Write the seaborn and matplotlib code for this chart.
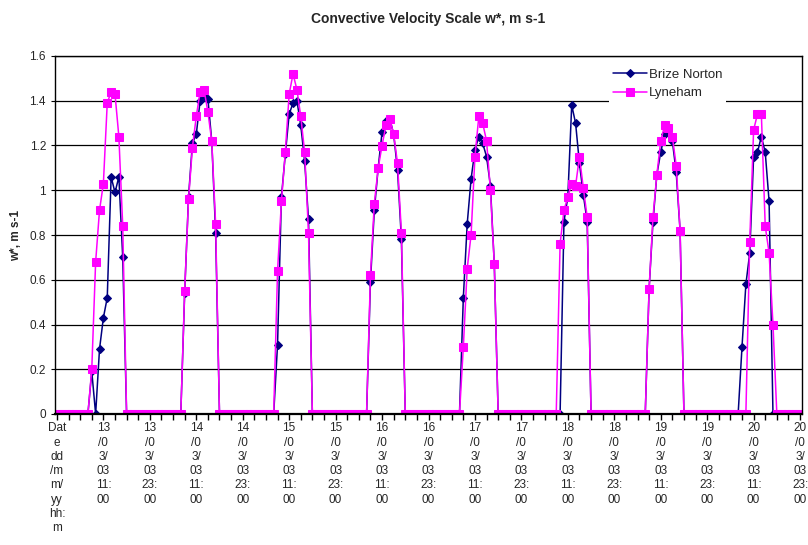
import numpy as np
import pandas as pd
import matplotlib
matplotlib.use('Agg')
import matplotlib.pyplot as plt
import seaborn as sns

# Data: hourly w* (m s-1), night hours are 0
days = ['13/03/03', '14/03/03', '15/03/03', '16/03/03',
        '17/03/03', '18/03/03', '19/03/03', '20/03/03']
day_hours = [8, 9, 10, 11, 12, 13, 14, 15, 16]

brize_day = [
    [0.19, 0.00, 0.29, 0.43, 0.52, 1.06, 0.99, 1.06, 0.70],
    [0.54, 0.97, 1.21, 1.25, 1.40, 1.42, 1.41, 1.22, 0.81],
    [0.31, 0.97, 1.16, 1.34, 1.39, 1.40, 1.29, 1.13, 0.87],
    [0.59, 0.91, 1.10, 1.26, 1.31, 1.32, 1.25, 1.09, 0.78],
    [0.52, 0.85, 1.05, 1.18, 1.24, 1.21, 1.15, 1.02, 0.67],
    [0.00, 0.00, 0.86, 0.97, 1.38, 1.30, 1.12, 0.98, 0.86],
    [0.56, 0.86, 1.07, 1.17, 1.25, 1.27, 1.22, 1.08, 0.82],
    [0.30, 0.58, 0.72, 1.15, 1.17, 1.24, 1.17, 0.95, 0.00],
]
lyneham_day = [
    [0.20, 0.68, 0.91, 1.03, 1.39, 1.44, 1.43, 1.24, 0.84],
    [0.55, 0.96, 1.19, 1.33, 1.44, 1.45, 1.35, 1.22, 0.85],
    [0.64, 0.95, 1.17, 1.43, 1.52, 1.45, 1.33, 1.17, 0.81],
    [0.62, 0.94, 1.10, 1.20, 1.29, 1.32, 1.25, 1.12, 0.81],
    [0.30, 0.65, 0.80, 1.15, 1.33, 1.30, 1.22, 1.00, 0.67],
    [0.00, 0.76, 0.91, 0.97, 1.03, 1.02, 1.15, 1.01, 0.88],
    [0.56, 0.88, 1.07, 1.22, 1.29, 1.28, 1.24, 1.11, 0.82],
    [0.00, 0.00, 0.77, 1.27, 1.34, 1.34, 0.84, 0.72, 0.40],
]

# category 0 is the header row, then 13/03 00:00 .. 20/03 23:00
n = 1 + 24 * len(days)
labels = ['Date dd/mm/yy hh:mm']
for d in days:
    for h in range(24):
        labels.append(f'{d} {h:02d}:00')

brize = np.zeros(n)
lyneham = np.zeros(n)
for k in range(len(days)):
    for j, h in enumerate(day_hours):
        brize[1 + 24 * k + h] = brize_day[k][j]
        lyneham[1 + 24 * k + h] = lyneham_day[k][j]

df = pd.DataFrame({'idx': np.arange(n), 'Brize Norton': brize, 'Lyneham': lyneham})

sns.set_style('white')
plt.rcParams['font.family'] = ['Liberation Sans', 'DejaVu Sans']

fig = plt.figure(figsize=(8.08, 5.45), dpi=100)
ax = fig.add_axes([55 / 808, 1 - 414 / 545, 747 / 808, 358 / 545])

sns.lineplot(data=df, x='idx', y='Brize Norton', ax=ax, color='#000080',
             marker='D', markersize=4.5, markeredgecolor='#000080',
             linewidth=1.1, label='Brize Norton')
sns.lineplot(data=df, x='idx', y='Lyneham', ax=ax, color='#FF00FF',
             marker='s', markersize=5.5, markeredgecolor='#FF00FF',
             linewidth=1.1, label='Lyneham')

ax.set_xlim(-0.5, n - 0.5)
ax.set_ylim(0, 1.6)
ax.set_yticks(np.arange(0, 1.61, 0.2))
ax.set_yticklabels(['0', '0.2', '0.4', '0.6', '0.8', '1', '1.2', '1.4', '1.6'], fontsize=8.5)
ax.yaxis.grid(True, color='black', linewidth=0.9)
ax.set_axisbelow(True)

# wrapped category labels every 12 hours
tick_pos = list(range(0, n, 12))
tick_txt = []
for p in tick_pos:
    if p == 0:
        tick_txt.append('Dat\ne\ndd\n/m\nm/\nyy\nhh:\nm')
    else:
        d, t = labels[p].split(' ')
        tick_txt.append(f'{d[:2]}\n/0\n3/\n03\n{t[:3]}\n00')
ax.set_xticks(tick_pos)
ax.set_xticklabels(tick_txt, fontsize=8.5, linespacing=1.25, va='top')
ax.set_xticks(range(0, n, 3), minor=True)
ax.tick_params(axis='x', which='both', direction='out', length=4, width=1,
               bottom=True, color='black', pad=2)
ax.tick_params(axis='y', direction='out', length=3, left=True, color='black')

for s in ax.spines.values():
    s.set_color('black')
    s.set_linewidth(1)
ax.spines['bottom'].set_linewidth(1.6)

ax.set_xlabel('')
ax.set_ylabel('w*, m s-1', fontsize=8.5, fontweight='bold', labelpad=5)
fig.text(0.53, 0.965, 'Convective Velocity Scale w*, m s-1', ha='center', va='center',
         fontsize=10, fontweight='bold')

leg = ax.legend(loc='upper left', bbox_to_anchor=(0.733, 0.995), frameon=True,
                fancybox=False, edgecolor='none', facecolor='white', framealpha=1,
                fontsize=9.5, handlelength=2.6, borderpad=0.3, labelspacing=0.5,
                handletextpad=0.1)

fig.savefig('out.png', dpi=100)
